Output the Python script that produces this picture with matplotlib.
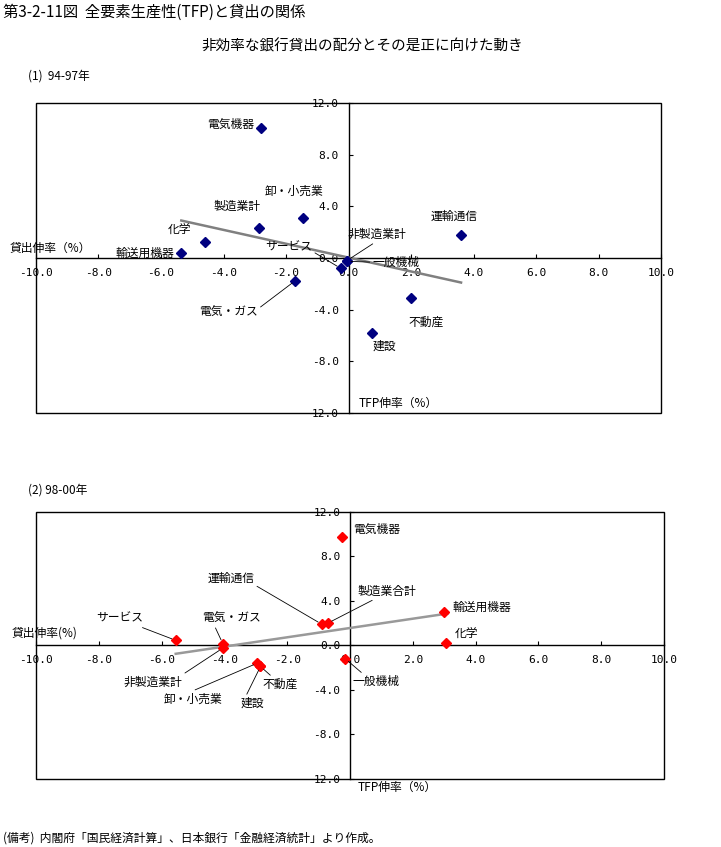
"""
TFP growth vs loan growth by industry, 94-97 and 98-00.
"""

import matplotlib
matplotlib.use("Agg")
import matplotlib.pyplot as plt
from matplotlib.patches import Rectangle

plt.rcParams["font.family"] = ["Noto Sans CJK JP", "DejaVu Sans"]

# (1) 94-97
top_labels = ["電気機器", "卸・小売業", "製造業計", "化学", "輸送用機器", "サービス",
              "非製造業計", "一般機械", "電気・ガス", "運輸通信", "不動産", "建設"]
top_tfp = [-2.8, -1.45, -2.85, -4.6, -5.35, -0.25, -0.05, -0.05, -1.7, 3.6, 2.0, 0.75]
top_loan = [10.1, 3.1, 2.3, 1.2, 0.4, -0.8, -0.2, -0.25, -1.75, 1.75, -3.1, -5.8]
top_fit_x = [-5.35, 3.6]
top_fit_y = [2.9, -1.9]

# (2) 98-00
bot_labels = ["電気機器", "運輸通信", "製造業合計", "輸送用機器", "化学", "サービス",
              "電気・ガス", "非製造業計", "卸・小売業", "建設", "不動産", "一般機械"]
bot_tfp = [-0.25, -0.9, -0.7, 3.0, 3.05, -5.55, -4.05, -4.05, -2.95, -2.85, -2.85, -0.15]
bot_loan = [9.7, 1.9, 2.0, 3.0, 0.2, 0.45, 0.15, -0.25, -1.6, -1.9, -1.9, -1.2]
bot_fit_x = [-5.55, 3.1]
bot_fit_y = [-0.76, 2.85]

x_ticks = [-10, -8, -6, -4, -2, 0, 2, 4, 6, 8, 10]
y_ticks = [-12, -8, -4, 0, 4, 8, 12]
y_ticklabels = ["12.0", "-8.0", "-4.0", "0.0", "4.0", "8.0", "12.0"]

# label offsets in pixels (dx, dy) and leader line start (relpos) or None
top_offsets = [(-30, 3, None), (-9, 27, None), (-22, 22, None), (-25, 13, None),
               (-36, -1, None), (-52, 21, (1, 0.2)), (30, 26, (0.5, 0)),
               (49, -1, (0, 0.5)), (-67, -32, (0.95, 0.6)), (-7, 19, None),
               (15, -24, None), (12, -13, None)]
bot_offsets = [(35, 8, None), (-91, 46, (1, 0)), (59, 32, (0.34, 0)),
               (38, 5, None), (21, 10, None), (-56, 22, (0.83, 0)),
               (9, 25, (0.2, 0)), (-70, -34, (0.98, 1)), (-64, -36, (0.42, 1)),
               (-8, -37, (0.2, 1)), (20, -18, (0.3, 1)), (31, -23, (0.25, 1))]


def setup_axes(ax):
    ax.set_xlim(-10, 10)
    ax.set_ylim(-12, 12)
    ax.spines["top"].set_visible(False)
    ax.spines["right"].set_visible(False)
    ax.spines["left"].set_position(("data", 0))
    ax.spines["bottom"].set_position(("data", 0))
    for s in ("left", "bottom"):
        ax.spines[s].set_linewidth(1.0)
        ax.spines[s].set_zorder(1)
    ax.add_patch(Rectangle((0, 0), 1, 1, transform=ax.transAxes, fill=False,
                           lw=1.0, color="black", clip_on=False, zorder=1))
    ax.set_xticks(x_ticks)
    ax.set_xticklabels([f"{v:.1f}" for v in x_ticks])
    ax.set_yticks(y_ticks)
    ax.set_yticklabels(y_ticklabels)
    ax.tick_params(axis="x", direction="in", length=3, pad=7, labelsize=8)
    ax.tick_params(axis="y", direction="in", length=3, pad=7, labelsize=8)
    for lab in ax.get_xticklabels() + ax.get_yticklabels():
        lab.set_fontfamily("DejaVu Sans Mono")


def annotate(ax, labels, xs, ys, offsets):
    for lab, x, y, (dx, dy, rel) in zip(labels, xs, ys, offsets):
        kw = {}
        if rel is not None:
            kw["arrowprops"] = dict(arrowstyle="-", lw=0.6, color="black",
                                    shrinkA=0, shrinkB=3, relpos=rel)
        ax.annotate(lab, xy=(x, y), xytext=(dx, dy), textcoords="offset pixels",
                    ha="center", va="center", fontsize=8.5, zorder=4, **kw)


fig = plt.figure(figsize=(7.21, 8.47), dpi=100)

fig.text(0.004, 0.986, "第3-2-11図  全要素生産性(TFP)と貸出の関係", fontsize=11,
         ha="left", va="center")
fig.text(0.502, 0.946, "非効率な銀行貸出の配分とその是正に向けた動き", fontsize=10.5,
         ha="center", va="center")
fig.text(0.039, 0.910, "(1)  94-97年", fontsize=8.5, ha="left", va="center")
fig.text(0.039, 0.421, "(2) 98-00年", fontsize=8.5, ha="left", va="center")
fig.text(0.004, 0.011, "(備考)  内閣府「国民経済計算」、日本銀行「金融経済統計」より作成。",
         fontsize=8.5, ha="left", va="center")

# top panel
ax1 = fig.add_axes([0.0499, 0.5124, 0.867, 0.366])
setup_axes(ax1)
ax1.plot(top_fit_x, top_fit_y, color="#808080", lw=1.8, zorder=2)
ax1.plot(top_tfp, top_loan, "D", color="#000080", ms=5, zorder=3)
annotate(ax1, top_labels, top_tfp, top_loan, top_offsets)
ax1.annotate("貸出伸率（%）", xy=(0, 0), xycoords=("axes fraction", "data"),
             xytext=(-26, 10), textcoords="offset pixels", ha="left", va="center",
             fontsize=8.5)
ax1.annotate("TFP伸率（%）", xy=(0, 0), xycoords=("data", "axes fraction"),
             xytext=(10, 10), textcoords="offset pixels", ha="left", va="center",
             fontsize=8.5)

# bottom panel
ax2 = fig.add_axes([0.0499, 0.0803, 0.871, 0.3156])
setup_axes(ax2)
ax2.plot(bot_fit_x, bot_fit_y, color="#999999", lw=1.8, zorder=2)
ax2.plot(bot_tfp, bot_loan, "D", color="#ff0000", ms=5, zorder=3)
annotate(ax2, bot_labels, bot_tfp, bot_loan, bot_offsets)
ax2.annotate("貸出伸率(%)", xy=(0, 0), xycoords=("axes fraction", "data"),
             xytext=(-24, 12), textcoords="offset pixels", ha="left", va="center",
             fontsize=8.5)
ax2.annotate("TFP伸率（%）", xy=(0, 0), xycoords=("data", "axes fraction"),
             xytext=(8, -8), textcoords="offset pixels", ha="left", va="center",
             fontsize=8.5)

plt.savefig("out.png", dpi=100)
